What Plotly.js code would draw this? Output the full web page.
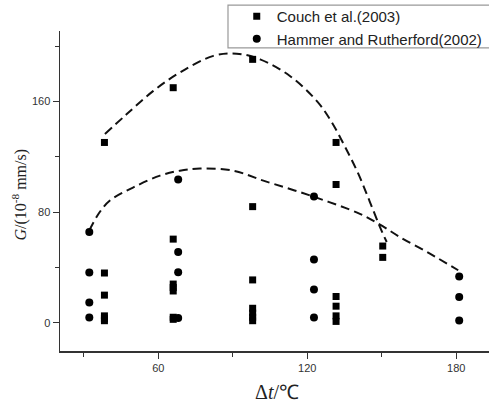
<!DOCTYPE html>
<html>
<head>
<meta charset="utf-8">
<script src="https://cdn.plot.ly/plotly-3.0.1.min.js"></script>
<style>html,body{margin:0;padding:0;background:#fff;}#chart{width:489px;height:405px;}</style>
</head>
<body>
<div id="chart"></div>
<script>
// Couch et al. (2003) — squares
const couchX = [38.3,38.3,38.3,38.3,38.3,38.3, 66,66,66,66,66,66,66, 98,98,98,98,98,98,98, 131.6,131.6,131.6,131.6,131.6,131.6, 150.4,150.4];
const couchY = [130.4,36,20,5,3,1.5, 170,60.5,28,25.5,23,4,2.5, 190.5,84,31,10.5,7,4,1.5, 130.4,100,19,12,5,1, 55.5,47.3];
// Hammer and Rutherford (2002) — circles
const hammerX = [32.2,32.2,32.2,32.2, 68,68,68,68, 122.7,122.7,122.7,122.7, 181.2,181.2,181.2];
const hammerY = [65.6,36.3,14.7,3.9, 103.6,51.2,36.5,3.5, 91.3,45.7,24.1,3.9, 33.4,18.7,1.7];
// dashed trend curves
const upperX = [38.5,47.3,58,68.7,82.2,91.6,101,113,123.8,129.2,135,140.5,145,149.3,152];
const upperY = [136.5,150.9,167.7,181,193,194.6,190.5,178.5,160.5,147,128,108,88.4,69.2,58.4];
const lowerX = [32.2,36,40.5,49.8,60.7,68.7,76.8,90.1,102.3,122.4,141.2,149.3,157.3,169.4,180.8];
const lowerY = [66.8,79,88.4,97.8,106.4,110,111.5,110,102.8,91.3,78.8,71,62,50,38];
const legendNames = ["Couch et al.(2003)", "Hammer and Rutherford(2002)"];
const xTicks = [60,120,180];
const yTicks = [0,80,160];

const dashStyle = {color:'#111', width:2, dash:'9px,5px', shape:'spline', smoothing:1};
const traces = [
  {x:upperX, y:upperY, mode:'lines', line:dashStyle, showlegend:false, hoverinfo:'skip'},
  {x:lowerX, y:lowerY, mode:'lines', line:dashStyle, showlegend:false, hoverinfo:'skip'},
  {x:couchX, y:couchY, mode:'markers', name:legendNames[0], marker:{symbol:'square', size:7, color:'#000'}},
  {x:hammerX, y:hammerY, mode:'markers', name:legendNames[1], marker:{symbol:'circle', size:8, color:'#000'}}
];

const axisCommon = {
  showgrid:false, zeroline:false, showline:true, linecolor:'#333', linewidth:1.5,
  ticks:'outside', ticklen:6, tickwidth:1, tickcolor:'#333',
  tickfont:{family:'Liberation Sans', size:11, color:'#333'}
};

const layout = {
  width:489, height:405,
  margin:{l:60, r:0, t:30, b:54},
  paper_bgcolor:'#fff', plot_bgcolor:'#fff',
  showlegend:true,
  legend:{x:0.412, xanchor:'left', y:1.098, yanchor:'top', bgcolor:'rgba(0,0,0,0)', borderwidth:0,
          font:{family:'Liberation Sans', size:15, color:'#222'}},
  xaxis:Object.assign({}, axisCommon, {range:[20.4,193.2], tickvals:xTicks, ticktext:xTicks.map(String),
          minor:{tickvals:[30,90,150], ticks:'outside', ticklen:4, tickcolor:'#333', tickwidth:1}}),
  yaxis:Object.assign({}, axisCommon, {range:[-20.4,211], tickvals:yTicks, ticktext:yTicks.map(String),
          minor:{tickvals:[40,120,200], ticks:'outside', ticklen:4, tickcolor:'#333', tickwidth:1}}),
  shapes:[{type:'rect', xref:'paper', yref:'paper', x0:0.3916, x1:1.05, y0:0.947, y1:1.081,
           line:{color:'#999', width:1.2}, fillcolor:'rgba(0,0,0,0)'}],
  annotations:[
    {xref:'paper', yref:'paper', x:-0.0932, y:0.489, xanchor:'center', yanchor:'middle',
     text:'<i>G</i>/(10<sup>-8</sup> mm/s)', showarrow:false,
     textangle:-90, font:{family:'Liberation Serif', size:16, color:'#222'}},
    {xref:'paper', yref:'paper', x:0.506, y:-0.128, xanchor:'center', yanchor:'middle',
     text:'Δ<i>t</i>/℃', showarrow:false,
     font:{family:'Times New Roman', size:20, color:'#222'}}
  ]
};

Plotly.newPlot('chart', traces, layout, {displayModeBar:false, staticPlot:true});
</script>
</body>
</html>
